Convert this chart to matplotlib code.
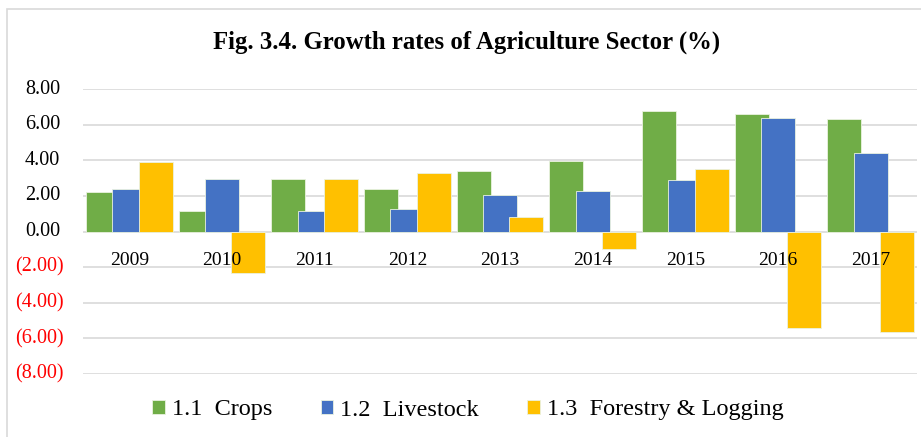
import matplotlib
matplotlib.use("Agg")
import matplotlib.pyplot as plt
import numpy as np
from matplotlib.patches import Rectangle

# growth rates (%) by year
years = ["2009", "2010", "2011", "2012", "2013", "2014", "2015", "2016", "2017"]
crops = [2.23, 1.16, 2.94, 2.36, 3.37, 3.97, 6.76, 6.57, 6.31]
livestock = [2.36, 2.94, 1.14, 1.25, 2.04, 2.30, 2.87, 6.39, 4.40]
forestry = [3.88, -2.32, 2.92, 3.28, 0.81, -0.99, 3.50, -5.41, -5.64]

series_names = ["1.1  Crops", "1.2  Livestock", "1.3  Forestry & Logging"]
series_colors = ["#70AD47", "#4472C4", "#FFC000"]
yticks = [8, 6, 4, 2, 0, -2, -4, -6, -8]

SERIF = "Liberation Serif"
AX_L, AX_R, AX_T, AX_B = 83, 917, 89, 374   # plot area in pixels


def fmt(v):
    # accounting style: negatives in brackets
    return f"({abs(v):.2f})" if v < 0 else f"{v:.2f}"


fig = plt.figure(figsize=(9.21, 4.37), dpi=100)
fig.patch.set_facecolor("white")

# light frame round the chart area
fig.add_artist(Rectangle((7 / 921, -0.05), 1.2, (437 - 9) / 437 + 0.05,
                         transform=fig.transFigure, fill=False,
                         edgecolor="#D9D9D9", lw=1.2))

ax = fig.add_axes([AX_L / 921, 1 - AX_B / 437, (AX_R - AX_L) / 921, (AX_B - AX_T) / 437])

x = np.arange(len(years))
width = 0.367
step = 0.284
for i, (vals, color, name) in enumerate(zip([crops, livestock, forestry],
                                             series_colors, series_names)):
    ax.bar(x + (i - 1) * step, vals, width=width, color=color,
           edgecolor="#EAF2E0", lw=0.6, label=name, zorder=2 + i)

ax.set_xlim(-0.5, len(years) - 0.5)
ax.set_ylim(-8, 8)
ax.set_yticks(yticks)
ax.set_yticklabels([])
ax.tick_params(axis="y", length=0)
ax.set_xticks([])
ax.grid(True, axis="y", color="#D9D9D9", lw=1.2, zorder=0)
ax.set_axisbelow(True)
for sp in ax.spines.values():
    sp.set_visible(False)

# y labels: positives leave room for the closing bracket
ytrans = ax.get_yaxis_transform()
for v in yticks:
    right_px = 64 if v < 0 else 60
    ax.text((right_px - AX_L) / (AX_R - AX_L), v, fmt(v), transform=ytrans,
            ha="right", va="center", fontfamily=SERIF, fontsize=14.5,
            color="#FF0000" if v < 0 else "black", clip_on=False)

# year labels sit just under the zero line
for xi, yr in zip(x, years):
    ax.text(xi, -1.65, yr, ha="center", va="center", fontfamily=SERIF,
            fontsize=14, color="black", zorder=10)

fig.text(467 / 921, 1 - 42 / 437, "Fig. 3.4. Growth rates of Agriculture Sector (%)",
         ha="center", va="center", fontfamily=SERIF, fontweight="bold", fontsize=17.8)

fig.legend(loc="center", bbox_to_anchor=(468 / 921, 1 - 410 / 437), ncol=3,
           frameon=False, prop={"family": SERIF, "size": 17.5},
           handlelength=0.5, handleheight=0.5, handletextpad=0.3,
           columnspacing=2.0)

fig.savefig("out.png", dpi=100)
